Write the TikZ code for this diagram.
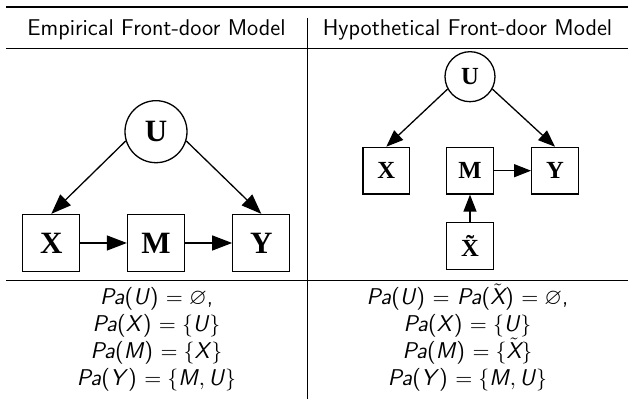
\documentclass[tikz,border=0pt]{standalone}
\usepackage{amssymb}
\usepackage{fontspec}
\newfontfamily\tms{Liberation Serif}
\usetikzlibrary{arrows.meta}
\newcommand\sv[1]{\mbox{\sffamily\itshape #1\/}}
\newcommand\pa[1]{\textsf{\textit{Pa}(#1)}}
\newcommand\xt{\ensuremath{\tilde{\hbox{\sffamily\itshape X}}}}
\begin{document}
\begin{tikzpicture}[x=0.5pt,y=-0.5pt,
  boxL/.style={draw,line width=0.65pt,minimum size=28.5pt,inner sep=0pt,font=\tms\bfseries\fontsize{15.5}{18}\selectfont},
  circL/.style={draw,circle,line width=0.65pt,minimum size=31pt,inner sep=0pt,font=\tms\bfseries\fontsize{15.5}{18}\selectfont},
  boxR/.style={draw,line width=0.65pt,minimum size=23.3pt,inner sep=0pt,font=\tms\bfseries\fontsize{12.3}{14}\selectfont},
  circR/.style={draw,circle,line width=0.65pt,minimum size=25pt,inner sep=0pt,font=\tms\bfseries\fontsize{12.3}{14}\selectfont},
  arrL/.style={line width=0.65pt,-{Triangle[length=10pt,width=7.5pt]}},
  arrR/.style={line width=0.65pt,-{Triangle[length=8.5pt,width=6.5pt]}},
  head/.style={anchor=base,font=\sffamily\fontsize{11.4}{13}\selectfont},
  eq/.style={anchor=base,font=\sffamily\fontsize{11.4}{13.7}\selectfont,inner sep=0pt},
  rule/.style={line width=0.5pt}]
\useasboundingbox (0,0) rectangle (628,399);
% table rules
\coordinate (tl) at (6,7); \coordinate (tr) at (628,7);
\coordinate (ml) at (6,49); \coordinate (mr) at (628,49);
\coordinate (bl) at (6,281); \coordinate (br) at (628,281);
\coordinate (vt) at (307,18); \coordinate (vb) at (307,399);
\draw[line width=1pt] (tl) -- (tr);
\draw[rule] (ml) -- (mr);
\draw[rule] (bl) -- (br);
\draw[line width=0.45pt] (vt) -- (vb);
% headers
\node[head] (h1) at (156.5,36) {Empirical Front-door Model};
\node[head] (h2) at (467.5,36) {Hypothetical Front-door Model};
% left diagram
\node[circL] (U) at (156,131.7) {U};
\node[boxL] (X) at (51.3,243) {X};
\node[boxL] (M) at (156,243) {M};
\node[boxL] (Y) at (261.3,243) {Y};
\draw[arrL] (U.197) -- (X.north);
\draw[arrL] (U.343) -- (Y.north);
\draw[arrL] (X) -- (M);
\draw[arrL] (M) -- (Y);
% right diagram
\node[circR] (U2) at (470,76.7) {U};
\node[boxR] (X2) at (386.3,170.7) {X};
\node[boxR] (M2) at (470,170.7) {M};
\node[boxR] (Y2) at (555,170.7) {Y};
\node[boxR] (Xt) at (470,246) {\~{X}};
\draw[arrR] (U2.209) -- (X2.north);
\draw[arrR] (U2.331) -- (Y2.north);
\draw[arrR] (M2) -- (Y2);
\draw[arrR] (Xt) -- (M2);
% parent sets
\node[eq] (l1) at (156.5,305) {\pa{\textit{U}} $=\varnothing$,};
\node[eq] (l2) at (156.5,332) {\pa{\textit{X}} $=\{\sv{U}\}$};
\node[eq] (l3) at (156.5,359) {\pa{\textit{M}} $=\{\sv{X}\}$};
\node[eq] (l4) at (156.5,386) {\pa{\textit{Y}} $=\{\sv{M},\sv{U}\}$};
\node[eq] (r1) at (467.5,305) {\pa{\textit{U}} $=$ \pa{\xt} $=\varnothing$,};
\node[eq] (r2) at (467.5,332) {\pa{\textit{X}} $=\{\sv{U}\}$};
\node[eq] (r3) at (467.5,359) {\pa{\textit{M}} $=\{\xt\}$};
\node[eq] (r4) at (467.5,386) {\pa{\textit{Y}} $=\{\sv{M},\sv{U}\}$};
\end{tikzpicture}
\end{document}
